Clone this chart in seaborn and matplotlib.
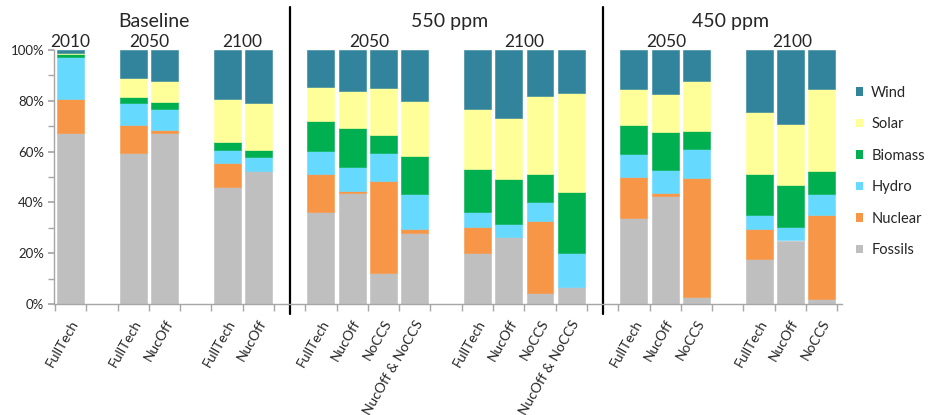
import matplotlib
matplotlib.use('Agg')
import matplotlib.pyplot as plt
import matplotlib.transforms as mtransforms
from matplotlib.lines import Line2D
from matplotlib.patches import Patch
from matplotlib.ticker import MultipleLocator, FuncFormatter
import pandas as pd
import seaborn as sns

sns.set_theme(style="white")
plt.rcParams['font.family'] = ['Lato', 'DejaVu Sans']

# bar slots on the category axis (gaps are empty slots)
slots = [0, 2, 3, 5, 6, 8, 9, 10, 11, 13, 14, 15, 16, 18, 19, 20, 22, 23, 24]
scenarios = ['FullTech', 'FullTech', 'NucOff', 'FullTech', 'NucOff',
             'FullTech', 'NucOff', 'NoCCS', 'NucOff & NoCCS',
             'FullTech', 'NucOff', 'NoCCS', 'NucOff & NoCCS',
             'FullTech', 'NucOff', 'NoCCS',
             'FullTech', 'NucOff', 'NoCCS']

# electricity shares, %
fossils = [67.2, 59.4, 67.4, 46.1, 52.2, 36.3, 43.8, 12.2, 28.0, 20.2, 26.2, 4.3, 6.8, 33.7, 42.5, 2.9, 17.6, 25.0, 2.1]
nuclear = [13.4, 11.2, 1.1, 9.3, 0.0, 14.9, 0.6, 36.4, 1.4, 10.3, 0.0, 28.5, 0.0, 16.2, 1.1, 46.8, 11.9, 0.0, 32.8]
hydro = [16.5, 8.4, 8.3, 5.4, 5.6, 9.1, 9.5, 10.9, 14.0, 5.9, 5.4, 7.4, 13.3, 9.1, 9.0, 11.2, 5.4, 5.3, 8.6]
biomass = [1.3, 2.4, 2.8, 2.8, 3.0, 11.9, 15.3, 7.2, 14.7, 16.9, 17.8, 10.8, 23.8, 11.5, 15.2, 7.4, 16.3, 16.5, 8.8]
solar = [0.4, 7.7, 8.1, 17.0, 18.2, 13.4, 14.5, 18.2, 21.7, 23.6, 23.9, 30.9, 39.1, 14.2, 15.0, 19.4, 24.2, 24.0, 32.4]
wind = [1.2, 10.9, 12.3, 19.4, 21.0, 14.4, 16.3, 15.1, 20.2, 23.1, 26.7, 18.1, 17.0, 15.3, 17.2, 12.3, 24.6, 29.2, 15.3]

sources = ['Wind', 'Solar', 'Biomass', 'Hydro', 'Nuclear', 'Fossils']
colors = {'Wind': '#31849B', 'Solar': '#FFFF99', 'Biomass': '#00B050',
          'Hydro': '#66D9FF', 'Nuclear': '#F79646', 'Fossils': '#BFBFBF'}

# group headers: (text, slot position)
groups = [('Baseline', 2.65), ('550 ppm', 12.1), ('450 ppm', 21.1)]
years = [('2010', 0), ('2050', 2.5), ('2100', 5.5), ('2050', 9.55), ('2100', 14.5),
         ('2050', 19.05), ('2100', 23.05)]
dividers = [7, 17]

series = dict(zip(sources, [wind, solar, biomass, hydro, nuclear, fossils]))
df = pd.DataFrame([
    {'slot': s, 'source': src, 'share': series[src][i]}
    for src in sources for i, s in enumerate(slots)
])

fig = plt.figure(figsize=(9.38, 4.15), dpi=100)
ax = fig.add_axes([54 / 938, 1 - 304 / 415, 788 / 938, 254 / 415])

sns.histplot(data=df, x='slot', weights='share', hue='source', hue_order=sources,
             palette=colors, multiple='stack', discrete=True, shrink=0.86,
             alpha=1, linewidth=0, legend=False, ax=ax)
# paint edges in the face colour so neighbouring segments have no seam
for p in ax.patches:
    p.set_edgecolor(p.get_facecolor())
    p.set_linewidth(0.4 if p.get_height() > 0 else 0)

ax.set_xlim(-0.53, 24.65)
ax.set_ylim(0, 100)
ax.set_xlabel('')
ax.set_ylabel('')

spine_c = '#A6A6A6'
for side in ['top', 'right']:
    ax.spines[side].set_visible(False)
for side in ['left', 'bottom']:
    ax.spines[side].set_color(spine_c)
    ax.spines[side].set_linewidth(1)

ax.yaxis.set_major_locator(MultipleLocator(20))
ax.yaxis.set_minor_locator(MultipleLocator(10))
ax.yaxis.set_major_formatter(FuncFormatter(lambda v, p: f'{v:.0f}%'))
ax.tick_params(axis='y', which='both', length=4, color=spine_c, left=True,
               labelsize=9.5, pad=3)

ax.set_xticks(slots)
ax.set_xticklabels(scenarios, rotation=60, ha='right', rotation_mode='anchor', fontsize=10)
ax.set_xticks([x - 0.5 for x in range(26)], minor=True)
ax.tick_params(axis='x', which='major', length=0, pad=10)
ax.tick_params(axis='x', which='minor', length=5, color=spine_c, bottom=True)

trans = mtransforms.blended_transform_factory(ax.transData, ax.transAxes)
for txt, x in groups:
    ax.text(x, 1.112, txt, transform=trans, ha='center', va='center', fontsize=14)
for txt, x in years:
    ax.text(x, 1.033, txt, transform=trans, ha='center', va='center', fontsize=12.5)
for x in dividers:
    ax.add_line(Line2D([x, x], [-0.04, 1.17], transform=trans, color='black',
                       linewidth=1.6, clip_on=False))

handles = [Patch(facecolor=colors[s], edgecolor='none', label=s) for s in sources]
fig.legend(handles=handles, loc='upper left', bbox_to_anchor=(850 / 938, 1 - 80 / 415),
           frameon=False, fontsize=10.5, handlelength=0.5, handleheight=0.5,
           handletextpad=0.55, labelspacing=1.2, borderaxespad=0)

fig.savefig('out.png', dpi=100)
